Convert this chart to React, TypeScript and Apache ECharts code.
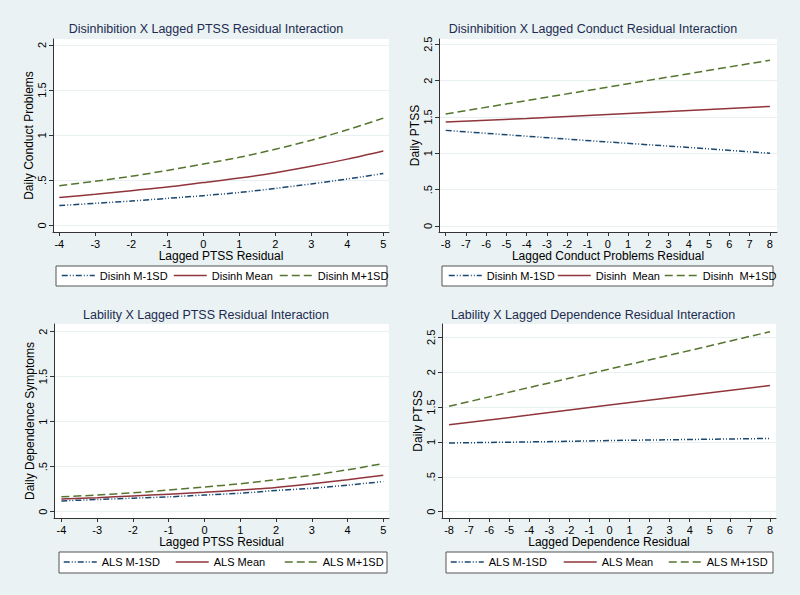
import React, { useEffect, useRef } from 'react';
import * as echarts from 'echarts';

// ---- data ----
const ptssResidual = [-4, -3, -2, -1, 0, 1, 2, 3, 4, 5];
const disinhPtssLow = [0.22, 0.245, 0.27, 0.3, 0.33, 0.365, 0.41, 0.46, 0.515, 0.575];
const disinhPtssMean = [0.31, 0.345, 0.385, 0.425, 0.475, 0.525, 0.585, 0.655, 0.735, 0.825];
const disinhPtssHigh = [0.44, 0.49, 0.545, 0.61, 0.68, 0.755, 0.845, 0.945, 1.06, 1.19];

const lagResidual = [-8, -4, 0, 4, 8];
const disinhCondLow = [1.315, 1.235, 1.155, 1.08, 1.0];
const disinhCondMean = [1.43, 1.48, 1.535, 1.59, 1.645];
const disinhCondHigh = [1.54, 1.725, 1.91, 2.095, 2.28];

const alsPtssLow = [0.12, 0.135, 0.15, 0.165, 0.185, 0.205, 0.235, 0.26, 0.295, 0.335];
const alsPtssMean = [0.14, 0.155, 0.175, 0.195, 0.215, 0.24, 0.27, 0.31, 0.355, 0.405];
const alsPtssHigh = [0.165, 0.185, 0.21, 0.24, 0.275, 0.31, 0.355, 0.405, 0.465, 0.535];

const alsDepLow = [0.985, 1.0, 1.02, 1.035, 1.05];
const alsDepMean = [1.245, 1.385, 1.53, 1.67, 1.81];
const alsDepHigh = [1.51, 1.78, 2.045, 2.31, 2.58];

const xTicksShort = [-4, -3, -2, -1, 0, 1, 2, 3, 4, 5];
const xTicksLong = [-8, -7, -6, -5, -4, -3, -2, -1, 0, 1, 2, 3, 4, 5, 6, 7, 8];
const yTicks2 = [0, 0.5, 1, 1.5, 2];
const yTicks25 = [0, 0.5, 1, 1.5, 2, 2.5];

const titles = [
  'Disinhibition X Lagged PTSS Residual Interaction',
  'Disinhibition X Lagged Conduct Residual Interaction',
  'Lability X Lagged PTSS Residual Interaction',
  'Lability X Lagged Dependence Residual Interaction',
];
const xNames = ['Lagged PTSS Residual', 'Lagged Conduct Problems Residual', 'Lagged PTSS Residual', 'Lagged Dependence Residual'];
const yNames = ['Daily Conduct Problems', 'Daily PTSS', 'Daily Dependence Symptoms', 'Daily PTSS'];
const seriesNames = [
  ['Disinh M-1SD', 'Disinh Mean', 'Disinh M+1SD'],
  ['Disinh M-1SD', 'Disinh  Mean', 'Disinh  M+1SD'],
  ['ALS M-1SD', 'ALS Mean', 'ALS M+1SD'],
  ['ALS M-1SD', 'ALS Mean', 'ALS M+1SD'],
];
const panelX = [ptssResidual, lagResidual, ptssResidual, lagResidual];
const panelY = [
  [disinhPtssLow, disinhPtssMean, disinhPtssHigh],
  [disinhCondLow, disinhCondMean, disinhCondHigh],
  [alsPtssLow, alsPtssMean, alsPtssHigh],
  [alsDepLow, alsDepMean, alsDepHigh],
];
const panelXTicks = [xTicksShort, xTicksLong, xTicksShort, xTicksLong];
const panelYTicks = [yTicks2, yTicks25, yTicks2, yTicks25];

// ---- layout / style ----
const layout = [
  { grid: { left: 53, top: 39, width: 336, height: 193 }, x: [-4.175, 5.158], y: [-0.073, 2.067], tx: 206, ty: 30,
    box: [56, 266, 331, 20], items: [61, 173, 279] },
  { grid: { left: 439, top: 39, width: 338, height: 193 }, x: [-8.33, 8.35], y: [-0.083, 2.572], tx: 593, ty: 30,
    box: [442, 266, 331, 20], items: [448, 557, 664] },
  { grid: { left: 54, top: 324, width: 335, height: 194 }, x: [-4.207, 5.16], y: [-0.07, 2.084], tx: 206, ty: 316,
    box: [59, 552, 328, 21], items: [63, 175, 284] },
  { grid: { left: 442, top: 324, width: 334, height: 194 }, x: [-8.35, 8.3], y: [-0.09, 2.69], tx: 593, ty: 316,
    box: [446, 552, 327, 21], items: [450, 563, 668] },
];
const colors = ['#1a476f', '#90353b', '#55752f'];
const dashes: any[] = [[6, 2, 1, 2, 1, 2], 'solid', [8, 4]];
const FONT = '"Liberation Sans", Arial, Helvetica, sans-serif';
const BG = '#eaf2f3';

const fmtY = (v: number) => (v === 0 ? '0' : String(v).replace(/^0\./, '.'));

export default function App() {
  const ref = useRef<HTMLDivElement>(null);
  useEffect(() => {
    if (!ref.current) return;
    const chart = echarts.init(ref.current, undefined, { renderer: 'svg' });
    const grid: any[] = [];
    const xAxis: any[] = [];
    const yAxis: any[] = [];
    const series: any[] = [];
    const title: any[] = [];
    const legend: any[] = [];
    const graphic: any[] = [];
    layout.forEach((L, p) => {
      grid.push({ ...L.grid, show: true, backgroundColor: '#ffffff', borderWidth: 0, containLabel: false });
      xAxis.push({
        type: 'value', gridIndex: p, min: L.x[0], max: L.x[1],
        name: xNames[p], nameLocation: 'middle', nameGap: 15,
        nameTextStyle: { fontFamily: FONT, fontSize: 12, color: '#000' },
        axisLine: { show: true, onZero: false, lineStyle: { color: '#333', width: 1 } },
        axisTick: { show: true, length: 4, customValues: panelXTicks[p], lineStyle: { color: '#333' } },
        axisLabel: { customValues: panelXTicks[p], fontFamily: FONT, fontSize: 11, color: '#000', margin: 6 },
        splitLine: { show: false },
      });
      yAxis.push({
        type: 'value', gridIndex: p, min: L.y[0], max: L.y[1],
        name: yNames[p], nameLocation: 'middle', nameGap: 12, nameRotate: 90,
        nameTextStyle: { fontFamily: FONT, fontSize: 12, color: '#000' },
        axisLine: { show: true, onZero: false, lineStyle: { color: '#333', width: 1 } },
        axisTick: { show: true, length: 4, customValues: panelYTicks[p], lineStyle: { color: '#333' } },
        axisLabel: { customValues: panelYTicks[p], rotate: 90, fontFamily: FONT, fontSize: 11, color: '#000', margin: 6, formatter: fmtY },
        splitLine: { show: true, lineStyle: { color: '#e8f0f2', width: 1 } },
      });
      title.push({
        text: titles[p], left: L.tx, top: L.ty - 8, textAlign: 'center', padding: 0,
        textStyle: { fontFamily: FONT, fontSize: 12.5, fontWeight: 'normal', color: '#1c2b50' },
      });
      const [bx, by, bw, bh] = L.box;
      graphic.push({
        type: 'rect', z: 1, shape: { x: bx, y: by, width: bw, height: bh },
        style: { fill: '#ffffff', stroke: '#555', lineWidth: 1 },
      });
      seriesNames[p].forEach((nm, k) => {
        series.push({
          type: 'line', name: nm, xAxisIndex: p, yAxisIndex: p,
          data: panelX[p].map((xv, i) => [xv, panelY[p][k][i]]),
          smooth: p === 0 || p === 2 ? 0.3 : false,
          symbol: 'none', showSymbol: false,
          lineStyle: { color: colors[k], width: 1.5, type: dashes[k] },
          itemStyle: { color: colors[k] },
        });
        legend.push({
          data: [nm], left: L.items[k], top: by + bh / 2 - 6, padding: 0, z: 5,
          itemWidth: 33, itemHeight: 12, selectedMode: false,
          itemStyle: { opacity: 0 },
          lineStyle: { color: colors[k], width: 1.5, type: dashes[k] },
          textStyle: { fontFamily: FONT, fontSize: 11, color: '#000' },
        });
      });
    });
    chart.setOption({
      animation: false,
      backgroundColor: BG,
      title, grid, xAxis, yAxis, series, legend, graphic,
    });
    return () => chart.dispose();
  }, []);
  return <div ref={ref} style={{ position: 'fixed', left: 0, top: 0, width: 800, height: 595 }} />;
}
